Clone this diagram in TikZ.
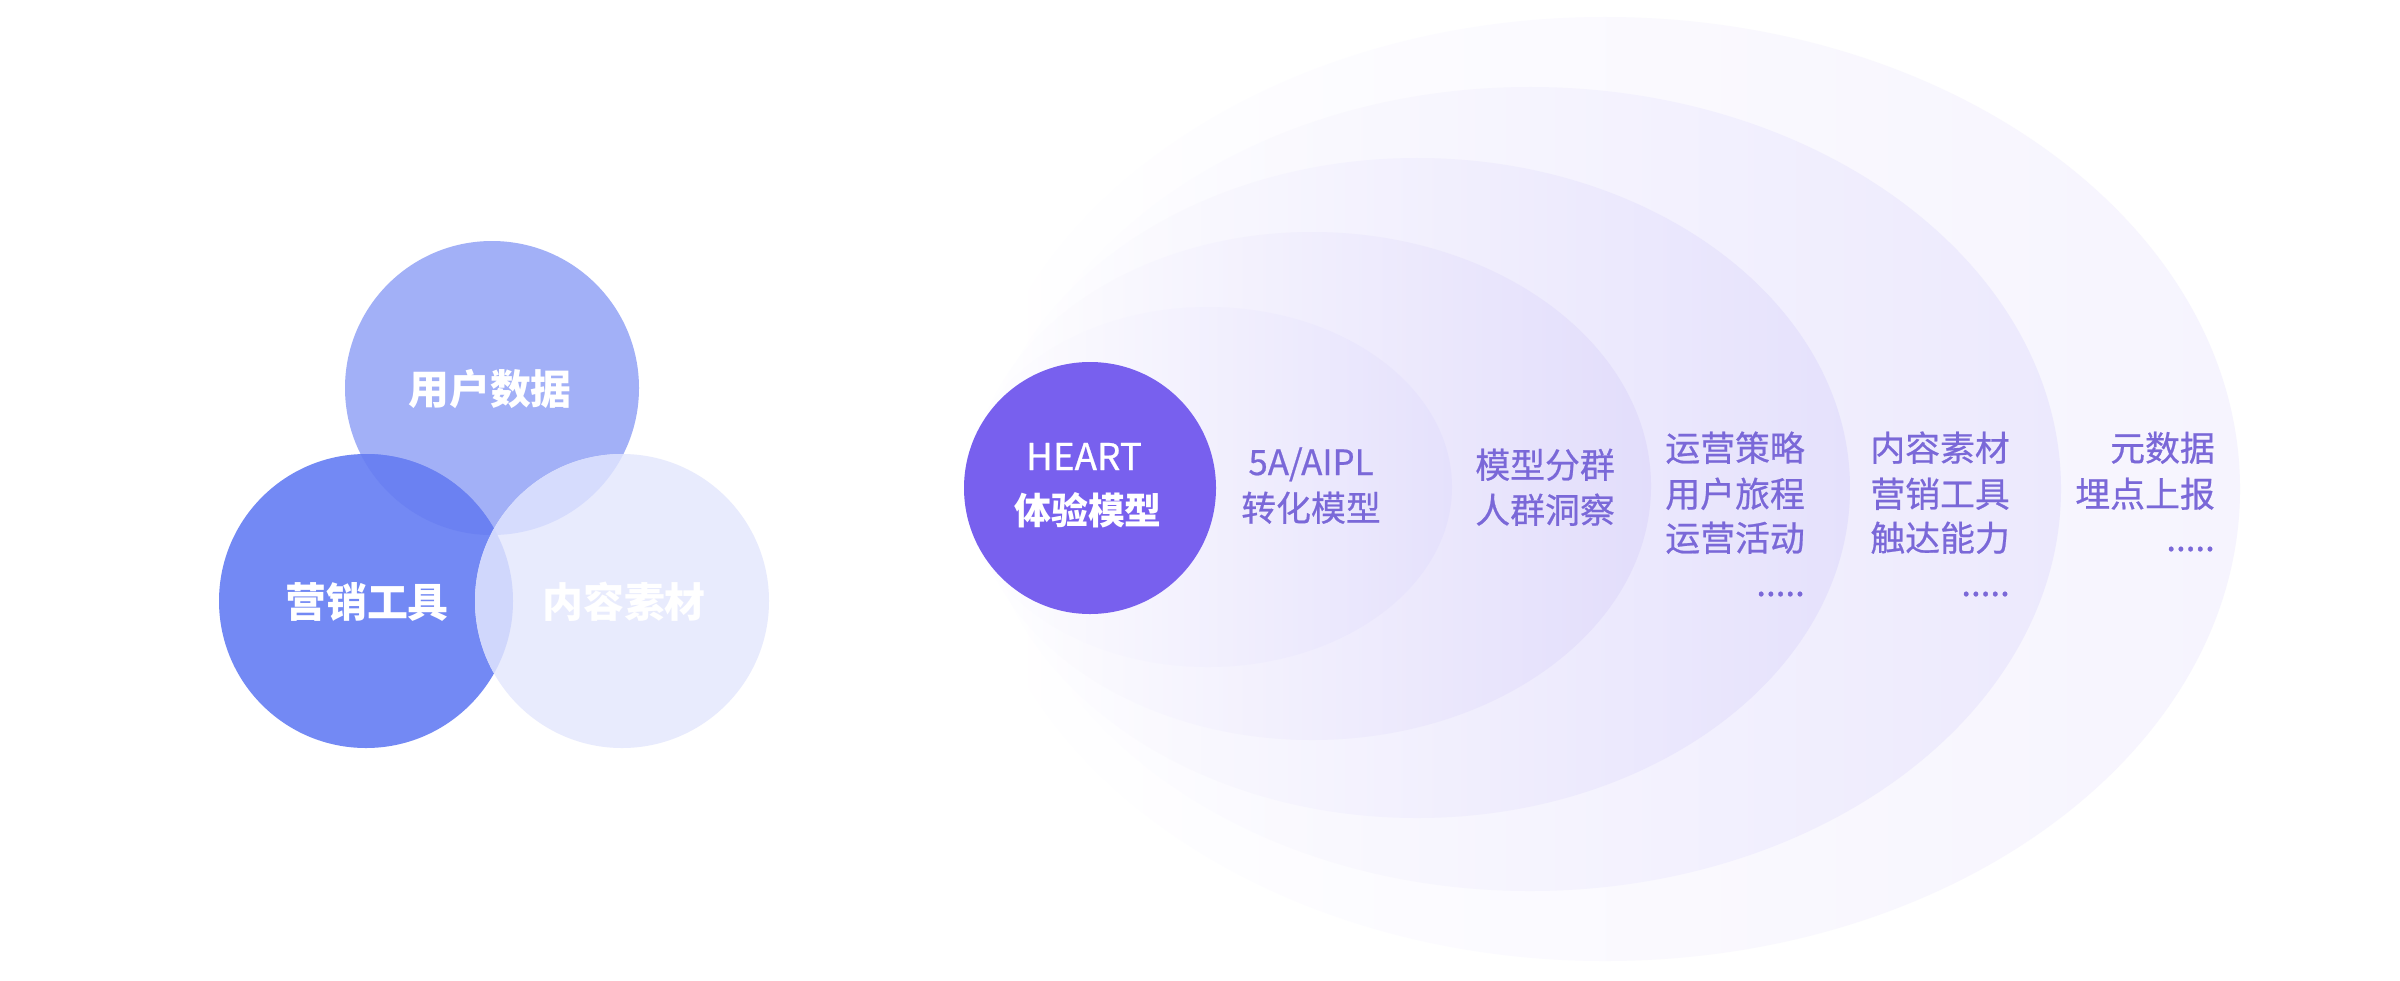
\documentclass[tikz,border=0pt]{standalone}
\usepackage{fontspec}
\setmainfont{Noto Sans CJK SC}
\newfontfamily\medfont[FakeBold=0.6]{Noto Sans CJK SC}
\definecolor{vtop}{RGB}{162,176,247}
\definecolor{vleft}{RGB}{115,137,244}
\definecolor{vright}{RGB}{232,235,253}
\definecolor{vtl}{RGB}{107,129,242}
\definecolor{vtr}{RGB}{214,220,253}
\definecolor{vlr}{RGB}{208,215,252}
\definecolor{heartc}{RGB}{120,96,238}
\definecolor{ringtext}{RGB}{122,104,216}
\definecolor{rA}{RGB}{229,225,252}
\definecolor{rB}{RGB}{226,221,251}
\definecolor{rC}{RGB}{229,225,252}
\definecolor{rD}{RGB}{236,233,253}
\definecolor{rE}{RGB}{246,244,254}
\tikzset{
  vennlbl/.style={font=\bfseries\fontsize{41}{41}\selectfont, text=white, inner sep=0pt, anchor=base},
  heartlbl/.style={font=\medfont\fontsize{37}{37}\selectfont, text=white, inner sep=0pt, anchor=base},
  heartbold/.style={font=\bfseries\fontsize{37}{37}\selectfont, text=white, inner sep=0pt, anchor=base},
  ringlbl/.style={font=\medfont\fontsize{35}{35}\selectfont, text=ringtext, inner sep=0pt, anchor=base east},
  ringmid/.style={font=\medfont\fontsize{35}{35}\selectfont, text=ringtext, inner sep=0pt, anchor=base},
  ring/.style={left color=white, right color=#1}
}
\begin{document}
\begin{tikzpicture}[x=1bp,y=-1bp]
\useasboundingbox (0,0) rectangle (2400,980);
\fill[white] (0,0) rectangle (2400,980);

% ---------- Venn ----------
\coordinate (cT) at (492,388);
\coordinate (cL) at (366,601);
\coordinate (cR) at (622,601);
\fill[vtop] (cT) circle (147bp);
\fill[vleft] (cL) circle (147bp);
\begin{scope}
  \clip (cT) circle (147bp);
  \fill[vtl] (cL) circle (147bp);
\end{scope}
\fill[vright] (cR) circle (147bp);
\begin{scope}
  \clip (cT) circle (147bp);
  \fill[vtr] (cR) circle (147bp);
\end{scope}
\begin{scope}
  \clip (cL) circle (147bp);
  \fill[vlr] (cR) circle (147bp);
\end{scope}
\node[vennlbl] (v1) at (490,404) {用户数据};
\node[vennlbl] (v2) at (367,617) {营销工具};
\node[vennlbl] (v3) at (624,617) {内容素材};

% ---------- Rings ----------
\shade[ring=rE] (1605,489) ellipse [x radius=635bp, y radius=472bp];
\shade[ring=rD] (1530,489) ellipse [x radius=531bp, y radius=402bp];
\shade[ring=rC] (1417,488) ellipse [x radius=433bp, y radius=330bp];
\shade[ring=rB] (1312,486) ellipse [x radius=339bp, y radius=254bp];
\shade[ring=rA] (1208,487) ellipse [x radius=244bp, y radius=180bp];

% ---------- HEART ----------
\fill[heartc] (1090,488) circle (126bp);
\node[heartlbl] (h1) at (1084,470) {HEART};
\node[heartbold] (h2) at (1088,524) {体验模型};

\node[ringmid] (a1) at (1311,475) {5A/AIPL};
\node[ringmid] (a2) at (1311,521) {转化模型};

\node[ringlbl] (b1) at (1615,478) {模型分群};
\node[ringlbl] (b2) at (1615,523) {人群洞察};

\node[ringlbl] (c1) at (1805,461) {运营策略};
\node[ringlbl] (c2) at (1805,507) {用户旅程};
\node[ringlbl] (c3) at (1805,551) {运营活动};
\node[ringlbl] (c4) at (1805,596) {.....};

\node[ringlbl] (d1) at (2010,461) {内容素材};
\node[ringlbl] (d2) at (2010,507) {营销工具};
\node[ringlbl] (d3) at (2010,551) {触达能力};
\node[ringlbl] (d4) at (2010,596) {.....};

\node[ringlbl] (e1) at (2215,461) {元数据};
\node[ringlbl] (e2) at (2215,507) {埋点上报};
\node[ringlbl] (e3) at (2215,551) {.....};
\end{tikzpicture}
\end{document}
